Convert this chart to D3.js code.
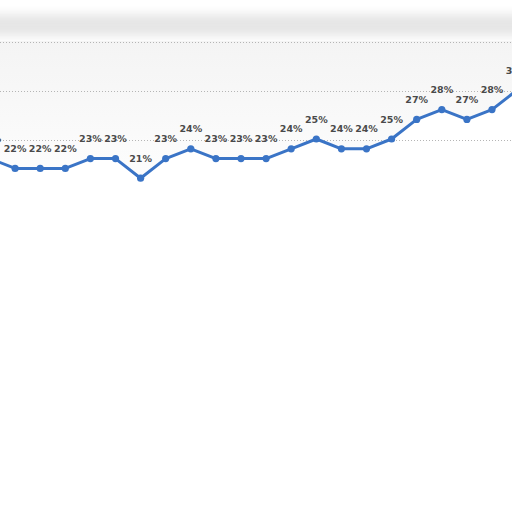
<!DOCTYPE html>
<html><head><meta charset="utf-8">
<script src="https://cdn.jsdelivr.net/npm/d3@7"></script>
<style>html,body{margin:0;padding:0;background:#fff;overflow:hidden}</style>
</head><body>
<svg id="c" width="512" height="512"></svg>
<script>
const categories = ["P1","P2","P3","P4","P5","P6","P7","P8","P9","P10","P11","P12","P13","P14","P15","P16","P17","P18","P19","P20","P21","P22"];
const values = [23,22,22,22,23,23,21,23,24,23,23,23,24,25,24,24,25,27,28,27,28,30];
const gridTicks = [25,30,35];

const svg = d3.select("#c");
const x = d3.scalePoint().domain(categories).range([-10, 517.1]);
const y = d3.scaleLinear().domain([20,35]).range([188, 41]);

const defs = svg.append("defs");
const blur = defs.append("filter").attr("id","blur").attr("x","-10%").attr("y","-50%").attr("width","120%").attr("height","200%");
blur.append("feGaussianBlur").attr("stdDeviation",5);
const blur2 = defs.append("filter").attr("id","blur2");
blur2.append("feGaussianBlur").attr("stdDeviation",0.8);
const g1 = defs.append("linearGradient").attr("id","plotg").attr("x1",0).attr("x2",0).attr("y1",0).attr("y2",1);
g1.append("stop").attr("offset","0%").attr("stop-color","#f4f4f4");
g1.append("stop").attr("offset","100%").attr("stop-color","#fdfdfd");

// top blurred band
svg.append("rect").attr("x",-20).attr("y",14).attr("width",552).attr("height",22)
  .attr("fill","#e6e6e6").attr("filter","url(#blur)");

// shaded plot background above the line
const area = d3.area().x((d,i)=>x(categories[i])).y0(y(35)).y1(d=>y(d));
svg.append("path").datum(values).attr("d",area).attr("fill","url(#plotg)");

// top border
svg.append("line").attr("x1",0).attr("x2",512).attr("y1",y(35)-0.5).attr("y2",y(35)-0.5)
  .attr("stroke","#a8a8a8").attr("stroke-width",2).attr("filter","url(#blur2)");

// dotted gridlines
svg.selectAll("line.grid").data(gridTicks).join("line").attr("class","grid")
  .attr("x1",0).attr("x2",512)
  .attr("y1",d=>Math.round(y(d))+1.5).attr("y2",d=>Math.round(y(d))+1.5)
  .attr("stroke","#b5b5b5").attr("stroke-width",1).attr("stroke-dasharray","1,2");

// line
const line = d3.line().x((d,i)=>x(categories[i])).y(d=>y(d));
svg.append("path").datum(values).attr("d",line).attr("fill","none")
  .attr("stroke","#3a74c6").attr("stroke-width",3).attr("stroke-linejoin","round");

svg.selectAll("circle.pt").data(values).join("circle").attr("class","pt")
  .attr("cx",(d,i)=>x(categories[i])).attr("cy",d=>y(d)).attr("r",3.6)
  .attr("fill","#3a74c6");

svg.selectAll("text.lbl").data(values).join("text").attr("class","lbl")
  .attr("x",(d,i)=>x(categories[i])).attr("y",d=>y(d)-16.5)
  .attr("text-anchor","middle")
  .attr("font-family","'DejaVu Sans', sans-serif").attr("font-weight","bold")
  .attr("font-size","9.5px").attr("fill","#4a4a4a")
  .text(d=>d+"%");
</script>
</body></html>
